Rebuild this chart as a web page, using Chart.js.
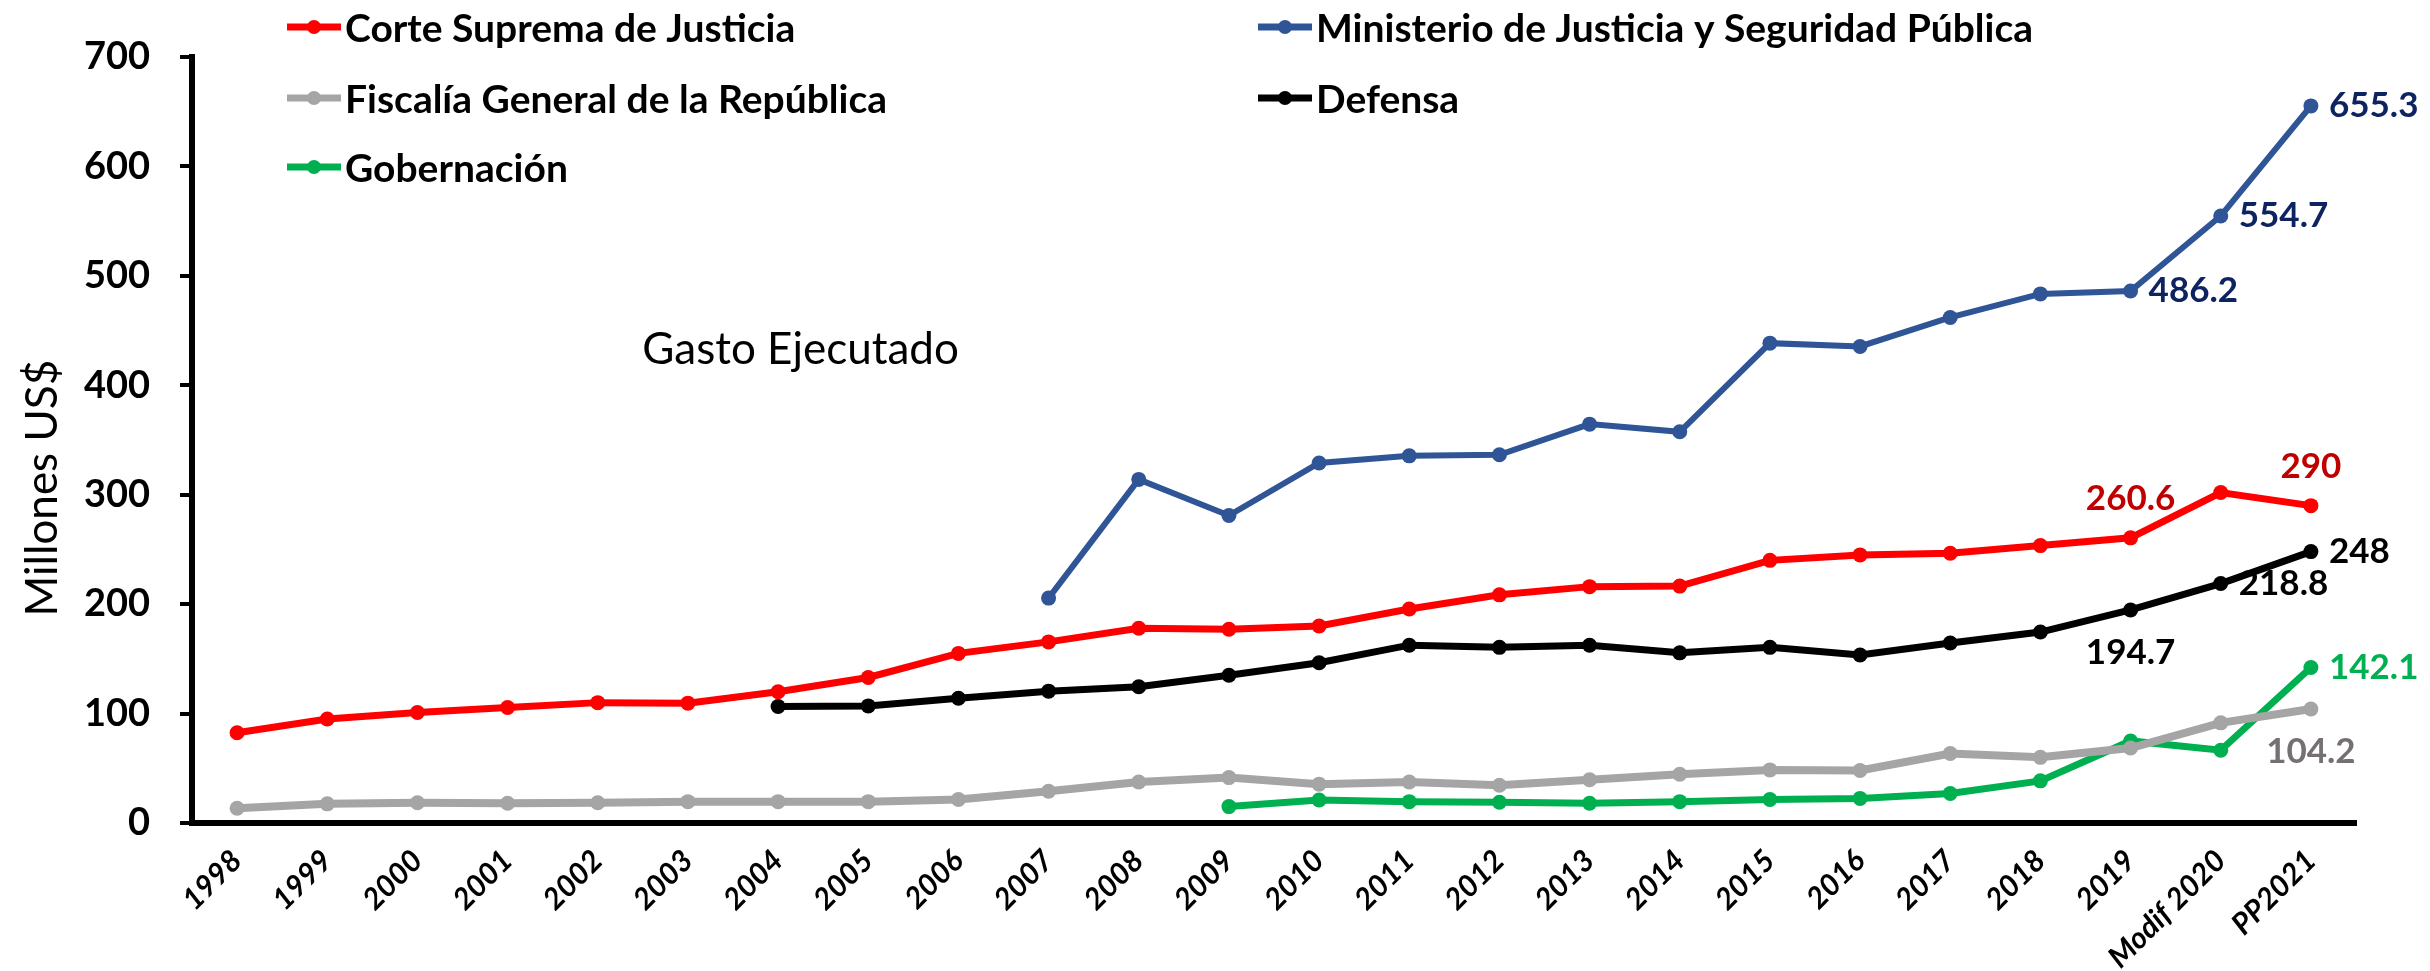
<!DOCTYPE html>
<html lang="es">
<head>
<meta charset="UTF-8">
<title>Gasto Ejecutado</title>
<script src="https://cdn.jsdelivr.net/npm/chart.js@4.4.1/dist/chart.umd.min.js"></script>
<style>
    body { margin: 0; background: #fff; }
    .chart-box { width: 2430px; height: 971px; }
</style>
</head>
<body>
<div class="chart-box"><canvas id="myChart" width="2430" height="971"></canvas></div>
<script>
const years = ['1998', '1999', '2000', '2001', '2002', '2003', '2004', '2005', '2006', '2007', '2008', '2009',
    '2010', '2011', '2012', '2013', '2014', '2015', '2016', '2017', '2018', '2019', 'Modif 2020', 'PP2021']

const corteSuprema = [82.5, 95, 101, 105.5, 110, 109.5, 120, 133, 155, 165.5, 178, 177,
    180, 195.5, 208.5, 216, 216.5, 240, 245, 246.5, 253.5, 260.6, 302, 290]
const ministerio = [null, null, null, null, null, null, null, null, null, 205.5, 314, 281,
    329, 335.5, 336.5, 364.5, 357.5, 438.5, 435.5, 462, 483.5, 486.2, 554.7, 655.3]
const fiscalia = [13.5, 17.5, 18.5, 18, 18.5, 19.5, 19.5, 19.5, 21.5, 29, 37.5, 41.5,
    35.5, 37.5, 34.5, 39.5, 44.5, 48.5, 48, 63.5, 60, 68.5, 91.5, 104.2]
const defensa = [null, null, null, null, null, null, 106.5, 107, 114, 120.5, 124.5, 135,
    146.5, 162.5, 160.5, 162.5, 155.5, 160.5, 153.5, 164.5, 174.5, 194.7, 218.8, 248]
const gobernacion = [null, null, null, null, null, null, null, null, null, null, null, 15,
    21, 19.5, 19, 18, 19.5, 21.5, 22.5, 27, 38.5, 75, 66.5, 142.1]

const yTicks = [0, 100, 200, 300, 400, 500, 600, 700]

const font = 'Lato'

const makeSeries = (label, data, color, width, labels) => ({
    label: label,
    data: data,
    borderColor: color,
    backgroundColor: color,
    pointBackgroundColor: color,
    pointBorderColor: color,
    borderWidth: width,
    pointRadius: 7.5,
    pointBorderWidth: 0,
    tension: 0,
    fill: false,
    spanGaps: false,
    valueLabels: labels
})

// etiquetas de valor: [indice, posicion]
const datasets = [
    makeSeries('Corte Suprema de Justicia', corteSuprema, '#FF0000', 7,
        { color: '#C00000', points: [[21, 'above'], [23, 'above']] }),
    makeSeries('Ministerio de Justicia y Seguridad Pública', ministerio, '#2F5597', 6,
        { color: '#0D2461', points: [[21, 'right'], [22, 'right'], [23, 'right']] }),
    makeSeries('Fiscalía General de la República', fiscalia, '#A5A5A5', 8,
        { color: '#767171', points: [[23, 'below']] }),
    makeSeries('Defensa', defensa, '#000000', 7,
        { color: '#000000', points: [[21, 'below'], [22, 'right'], [23, 'right']] }),
    makeSeries('Gobernación', gobernacion, '#00B050', 7,
        { color: '#00B050', points: [[23, 'right']] })
]

const valueLabels = {
    id: 'valueLabels',
    afterDatasetsDraw(chart) {
        const ctx = chart.ctx
        chart.data.datasets.forEach((ds, i) => {
            if (!ds.valueLabels) return
            const meta = chart.getDatasetMeta(i)
            ctx.save()
            ctx.font = `bold 35px ${font}`
            ctx.fillStyle = ds.valueLabels.color
            ctx.textBaseline = 'middle'
            ds.valueLabels.points.forEach(([idx, pos]) => {
                const pt = meta.data[idx]
                let x = pt.x
                let y = pt.y
                if (pos === 'right') {
                    ctx.textAlign = 'left'
                    x += 18
                } else if (pos === 'above') {
                    ctx.textAlign = 'center'
                    y -= 39
                } else {
                    ctx.textAlign = 'center'
                    y += 43
                }
                ctx.fillText(String(ds.data[idx]), x, y)
            })
            ctx.restore()
        })
    }
}

const legendCols = [287, 1258]
const legendRows = [27, 98, 167]

const twoColLegend = {
    id: 'twoColLegend',
    afterDraw(chart) {
        const ctx = chart.ctx
        ctx.save()
        ctx.font = `bold 39px ${font}`
        ctx.textAlign = 'left'
        ctx.textBaseline = 'middle'
        chart.data.datasets.forEach((ds, i) => {
            const x = legendCols[i % 2]
            const y = legendRows[Math.floor(i / 2)]
            ctx.strokeStyle = ds.borderColor
            ctx.lineWidth = 7
            ctx.beginPath()
            ctx.moveTo(x, y)
            ctx.lineTo(x + 54, y)
            ctx.stroke()
            ctx.fillStyle = ds.borderColor
            ctx.beginPath()
            ctx.arc(x + 27, y, 7, 0, Math.PI * 2)
            ctx.fill()
            ctx.fillStyle = '#000'
            ctx.fillText(ds.label, x + 58, y + 2)
        })
        ctx.restore()
    }
}

const annotations = {
    id: 'annotations',
    afterDraw(chart) {
        const ctx = chart.ctx
        const x = chart.scales.x
        const y = chart.scales.y
        ctx.save()
        ctx.fillStyle = '#000'
        ctx.textAlign = 'center'
        ctx.textBaseline = 'middle'
        ctx.font = `44px ${font}`
        const gx = x.getPixelForValue(6) + (x.getPixelForValue(7) - x.getPixelForValue(6)) * 0.25
        ctx.fillText('Gasto Ejecutado', gx, y.getPixelForValue(432))
        ctx.translate(43, y.getPixelForValue(306))
        ctx.rotate(-Math.PI / 2)
        ctx.fillText('Millones US$', 0, 0)
        ctx.restore()
    }
}

const ctx = document.getElementById('myChart')

const myChart = new Chart(ctx, {
    type: 'line',
    data: {
        labels: years,
        datasets: datasets
    },
    options: {
        responsive: false,
        animation: false,
        devicePixelRatio: 1,
        layout: {
            padding: { top: 57, right: 74, left: 0, bottom: 0 }
        },
        plugins: {
            legend: { display: false },
            tooltip: { enabled: false }
        },
        scales: {
            x: {
                offset: true,
                grid: { display: false, drawTicks: false },
                border: { display: true, color: '#000', width: 6 },
                ticks: {
                    autoSkip: false,
                    minRotation: 45,
                    maxRotation: 45,
                    padding: 20,
                    color: '#000',
                    font: { family: font, size: 30, weight: 'bold', style: 'italic' }
                },
                afterFit: (scale) => { scale.height = 148 }
            },
            y: {
                min: 0,
                max: 700,
                afterBuildTicks: (scale) => { scale.ticks = yTicks.map(v => ({ value: v })) },
                grid: { drawOnChartArea: false, drawTicks: true, tickLength: 12, lineWidth: 4, color: '#000' },
                border: { display: true, color: '#000', width: 6 },
                ticks: {
                    padding: 30,
                    color: '#000',
                    font: { family: font, size: 38, weight: 'bold' }
                },
                afterFit: (scale) => { scale.width = 192 }
            }
        }
    },
    plugins: [valueLabels, twoColLegend, annotations]
})
</script>
</body>
</html>
